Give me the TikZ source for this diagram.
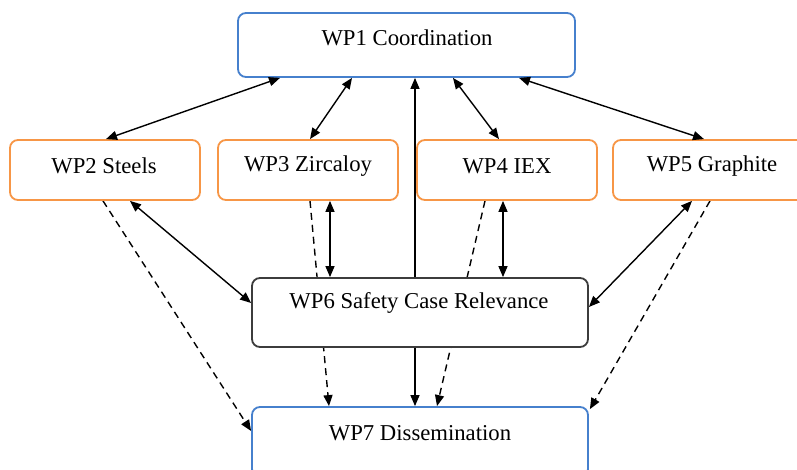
\documentclass[tikz,border=0pt]{standalone}
\usepackage{fontspec}
\setmainfont{Liberation Serif}
\usetikzlibrary{arrows.meta}
\pgfdeclarelayer{base}
\pgfdeclarelayer{bg}
\pgfsetlayers{base,bg,main}
\definecolor{wpblue}{RGB}{70,128,205}
\definecolor{wporange}{RGB}{247,150,70}
\definecolor{wpgray}{RGB}{60,60,60}
\begin{document}
\begin{tikzpicture}[x=1pt,y=-1pt,
  wpbox/.style={rectangle, rounded corners=8pt, line width=1.8pt, fill=white, inner sep=0pt},
  lbl/.style={font=\fontsize{22.7}{26}\selectfont, inner sep=0pt},
  both/.style={line width=1.4pt, {Triangle[length=11pt,width=9pt]}-{Triangle[length=11pt,width=9pt]}},
  one/.style={line width=1.4pt, -{Triangle[length=11pt,width=9pt]}},
  dashconn/.style={line width=1.4pt, dash pattern=on 7pt off 5pt, -{Triangle[length=11pt,width=9pt]}}
]
\useasboundingbox (0,0) rectangle (797,470);
\clip (0,0) rectangle (797,470);
\begin{pgfonlayer}{base}
\fill[white] (0,0) rectangle (797,470);
\end{pgfonlayer}

% boxes
\node[wpbox, draw=wpblue, minimum width=337pt, minimum height=64pt] (wp1) at (406.5,45) {};
\node[wpbox, draw=wporange, minimum width=190pt, minimum height=60pt] (wp2) at (105,170) {};
\node[wpbox, draw=wporange, minimum width=180pt, minimum height=60pt] (wp3) at (308,170) {};
\node[wpbox, draw=wporange, minimum width=180pt, minimum height=60pt] (wp4) at (507,170) {};
\node[wpbox, draw=wporange, minimum width=200pt, minimum height=60pt] (wp5) at (713,170) {};
\node[wpbox, draw=wpgray, minimum width=336pt, minimum height=69pt] (wp6) at (420,312.5) {};
\node[wpbox, draw=wpblue, minimum width=336pt, minimum height=70pt] (wp7) at (420,442) {};

% labels
\node[lbl] (t1) at (407,38) {WP1 Coordination};
\node[lbl] (t2) at (104,166) {WP2 Steels};
\node[lbl] (t3) at (308,166) {WP3 Zircaloy};
\node[lbl] (t4) at (507,166) {WP4 IEX};
\node[lbl] (t5) at (712,166) {WP5 Graphite};
\node[lbl] (t6) at (419,303) {WP6 Safety Case Relevance};
\node[lbl] (t7) at (420,433) {WP7 Dissemination};

% dashed connectors (behind WP6)
\begin{pgfonlayer}{bg}
\draw[dashconn] ([xshift=-2pt]wp2.south) -- ([yshift=11pt]wp7.west);
\draw[dashconn] ([xshift=2pt]wp3.south) -- ([xshift=-91pt]wp7.north);
\draw[dashconn] ([xshift=-22pt]wp4.south) -- ([xshift=17pt]wp7.north);
\draw[dashconn] ([xshift=-3pt]wp5.south) -- ([xshift=1pt,yshift=-3pt]wp7.north east);
\end{pgfonlayer}

% solid connectors
\draw[both] ([xshift=-126.5pt]wp1.south) -- ([xshift=1pt]wp2.north);
\draw[both] ([xshift=-54.5pt]wp1.south) -- ([xshift=2pt]wp3.north);
\draw[one] ([xshift=-5pt]wp6.north) -- ([xshift=8.5pt]wp1.south);
\draw[both] ([xshift=46.5pt]wp1.south) -- ([xshift=-8pt]wp4.north);
\draw[both] ([xshift=112.5pt]wp1.south) -- ([xshift=-9pt]wp5.north);
\draw[both] ([xshift=25pt]wp2.south) -- ([yshift=9.5pt]wp6.west);
\draw[both] ([xshift=22pt]wp3.south) -- ([xshift=-90pt]wp6.north);
\draw[both] ([xshift=-4pt]wp4.south) -- ([xshift=83pt]wp6.north);
\draw[both] ([xshift=-21pt]wp5.south) -- ([yshift=5.5pt]wp6.east);
\draw[one] ([xshift=-5pt]wp6.south) -- ([xshift=-5pt]wp7.north);
\end{tikzpicture}
\end{document}
